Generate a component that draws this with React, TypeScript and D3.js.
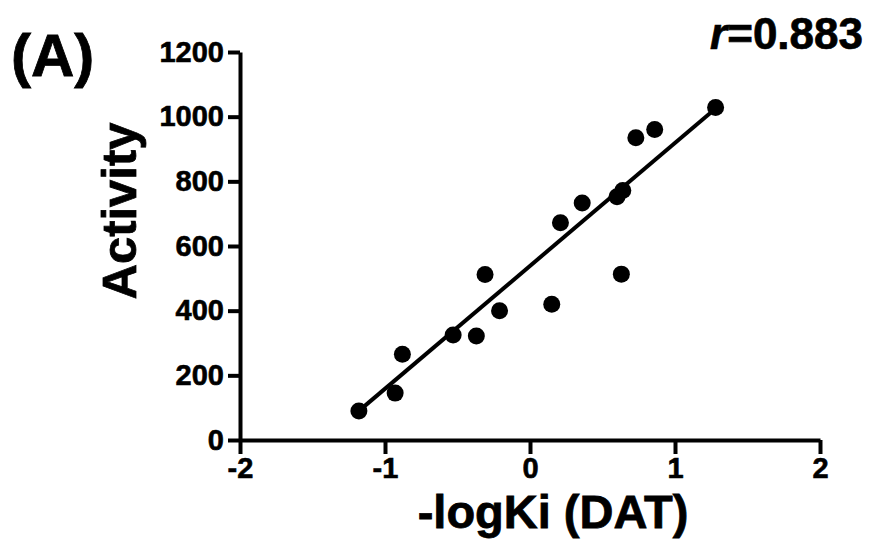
import React, { useRef, useEffect } from "react"
import * as d3 from "d3"

// values
const logKi = [-1.18, -0.93, -0.88, -0.53, -0.37, -0.31, -0.21, 0.15, 0.21, 0.36, 0.6, 0.64, 0.63, 0.73, 0.86, 1.28]
const activity = [90, 145, 265, 325, 322, 512, 400, 420, 672, 733, 752, 772, 513, 935, 960, 1028]
const xTicks = [-2, -1, 0, 1, 2]
const yTicks = [0, 200, 400, 600, 800, 1000, 1200]
// fitted line as drawn in the figure
const fitX = [-1.18, 1.28]
const fitY = [90, 1025]

const FONT = "'Liberation Sans', Arial, Helvetica, sans-serif"

const App = () => {
  const svgRef = useRef<SVGSVGElement>(null)

  const drawChart = () => {
    const svgWidth = 872
    const svgHeight = 549
    const left = 240
    const right = 820
    const top = 52
    const bottom = 440

    const svg = d3.select(svgRef.current)
    svg.selectAll("*").remove()
    svg.attr("width", svgWidth).attr("height", svgHeight)

    const xScale = d3.scaleLinear().domain([-2, 2]).range([left, right])
    const yScale = d3.scaleLinear().domain([0, 1200]).range([bottom, top])

    const styleTicks = (g) => {
      g.select(".domain").attr("stroke", "#000").attr("stroke-width", 4)
      g.selectAll(".tick line").attr("stroke", "#000").attr("stroke-width", 4)
      g.selectAll(".tick text")
        .attr("fill", "#000")
        .attr("stroke", "#000")
        .attr("stroke-width", 0.6)
        .style("font-family", FONT)
        .style("font-weight", "bold")
        .style("font-size", "29px")
    }

    // y axis
    svg
      .append("g")
      .attr("transform", `translate(${left},0)`)
      .call(
        d3.axisLeft(yScale).tickValues(yTicks).tickFormat((d) => String(d))
          .tickSize(12).tickPadding(4).tickSizeOuter(0)
      )
      .call(styleTicks)

    // x axis
    svg
      .append("g")
      .attr("transform", `translate(0,${bottom})`)
      .call(
        d3.axisBottom(xScale).tickValues(xTicks).tickFormat((d) => String(d))
          .tickSize(14).tickPadding(3).tickSizeOuter(0)
      )
      .call(styleTicks)

    // fit line
    const line = d3
      .line<number>()
      .x((d) => xScale(d))
      .y((d, i) => yScale(fitY[i]))
    svg
      .append("path")
      .datum(fitX)
      .attr("d", line)
      .attr("fill", "none")
      .attr("stroke", "#000")
      .attr("stroke-width", 4)

    // points
    svg
      .selectAll(".dot")
      .data(logKi)
      .enter()
      .append("circle")
      .attr("class", "dot")
      .attr("cx", (d) => xScale(d))
      .attr("cy", (d, i) => yScale(activity[i]))
      .attr("r", 8.5)
      .attr("fill", "#000")

    // titles
    svg
      .append("text")
      .attr("x", 553)
      .attr("y", 528)
      .attr("text-anchor", "middle")
      .attr("stroke", "#000")
      .attr("stroke-width", 0.8)
      .style("font-family", FONT)
      .style("font-weight", "bold")
      .style("font-size", "47px")
      .text("-logKi (DAT)")

    svg
      .append("text")
      .attr("transform", `translate(136,211) rotate(-90)`)
      .attr("text-anchor", "middle")
      .attr("stroke", "#000")
      .attr("stroke-width", 0.8)
      .style("font-family", FONT)
      .style("font-weight", "bold")
      .style("font-size", "49px")
      .text("Activity")

    svg
      .append("text")
      .attr("x", 11)
      .attr("y", 76)
      .attr("stroke", "#000")
      .attr("stroke-width", 0.8)
      .style("font-family", FONT)
      .style("font-weight", "bold")
      .style("font-size", "60px")
      .text("(A)")

    const rText = svg
      .append("text")
      .attr("x", 863)
      .attr("y", 49)
      .attr("text-anchor", "end")
      .attr("stroke", "#000")
      .attr("stroke-width", 0.7)
      .style("font-family", FONT)
      .style("font-weight", "bold")
      .style("font-size", "44px")
    rText.append("tspan").style("font-style", "italic").text("r")
    rText.append("tspan").text("=0.883")
  }

  useEffect(() => {
    drawChart()
  }, [])

  return (
    <div style={{ position: "absolute", left: 0, top: 0, background: "#fff" }}>
      <svg ref={svgRef} style={{ display: "block" }}></svg>
    </div>
  )
}

export default App
